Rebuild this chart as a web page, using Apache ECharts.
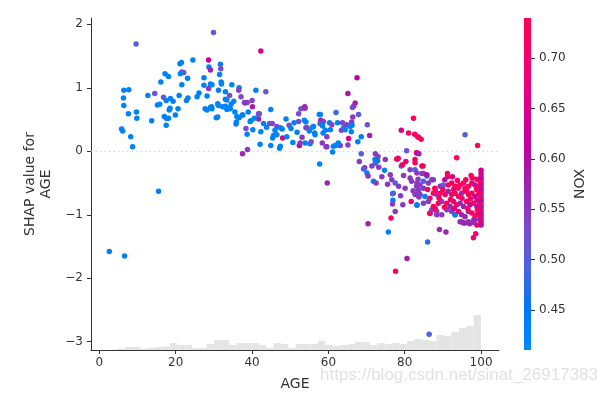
<!DOCTYPE html>
<html><head><meta charset="utf-8">
<script src="https://cdn.jsdelivr.net/npm/echarts@6/dist/echarts.min.js"></script>
<style>html,body{margin:0;padding:0;background:#fff}#c{width:600px;height:400px}</style>
</head><body><div id="c"></div>
<script>
// [AGE, SHAP value for AGE, NOX]
const pointsYoung = [
[2.6,-1.58,0.43],[6.6,-1.65,0.43],[9.6,1.69,0.50],[6.4,0.96,0.43],[7.7,0.97,0.43],[6.3,0.84,0.43],[6.4,0.72,0.43],
[7.6,0.59,0.43],[9.7,0.62,0.43],[9.8,0.52,0.43],[5.8,0.35,0.43],[6.1,0.32,0.43],[8.2,0.23,0.43],[8.7,0.07,0.43],
[15.5,-0.63,0.43],[12.7,0.88,0.43],[14.5,0.91,0.52],[13.7,0.48,0.43],[16.1,1.09,0.43],[17.2,1.22,0.43],[18.1,1.18,0.43],
[15.2,0.73,0.43],[15.8,0.74,0.43],[16.8,0.85,0.52],[17.5,0.80,0.43],[18.6,0.83,0.43],[19.3,0.79,0.43],[18.5,0.68,0.43],
[18.3,0.65,0.43],[20.6,0.67,0.43],[19.9,0.57,0.43],[17.0,0.55,0.43],[17.5,0.52,0.43],[18.1,0.52,0.43],[17.5,0.41,0.43],
[20.9,0.88,0.43],[22.8,0.80,0.43],[23.2,0.84,0.43],[21.1,1.38,0.43],[21.5,1.40,0.43],[21.6,1.25,0.50],[22.1,1.24,0.53],
[21.2,1.22,0.43],[21.6,1.05,0.43],[23.1,1.15,0.43],[24.5,1.44,0.43],[25.6,0.86,0.43],[26.1,0.92,0.43],[27.4,1.16,0.43],
[27.4,1.04,0.43],[28.6,1.44,0.62],[28.7,1.33,0.43],[29.1,1.28,0.57],[29.1,1.06,0.43],[28.6,0.99,0.55],[28.2,0.87,0.43],
[27.7,0.67,0.43],[28.2,0.65,0.43],[29.1,0.69,0.43],[29.9,1.87,0.52],[29.5,1.05,0.43],[29.5,0.67,0.43],[29.4,0.70,0.43]
];
const pointsMid = [
[42.3,1.58,0.65],[31.7,1.37,0.43],[31.8,1.30,0.53],[31.5,1.21,0.43],[31.9,1.09,0.43],[32.0,1.06,0.43],[31.2,0.96,0.43],
[33.0,0.94,0.43],[34.7,1.05,0.43],[36.6,1.00,0.43],[36.5,0.96,0.54],[33.4,0.81,0.43],[34.1,0.88,0.53],[33.0,0.82,0.43],
[31.0,0.75,0.43],[31.2,0.72,0.43],[32.3,0.70,0.43],[33.0,0.71,0.43],[33.4,0.66,0.43],[33.9,0.68,0.43],[35.2,0.79,0.43],
[37.1,0.86,0.53],[38.0,0.77,0.55],[40.0,0.80,0.54],[40.1,0.70,0.58],[41.0,0.96,0.43],[43.6,0.94,0.52],[30.6,0.53,0.43],
[31.0,0.54,0.43],[34.3,0.67,0.43],[36.0,0.55,0.43],[36.6,0.53,0.43],[35.9,0.46,0.43],[35.8,0.43,0.43],[37.4,0.57,0.43],
[37.6,0.57,0.43],[39.5,0.47,0.43],[39.7,0.48,0.43],[41.7,0.59,0.53],[41.9,0.59,0.43],[41.7,0.51,0.58],[38.7,0.27,0.43],
[38.4,0.36,0.53],[40.2,0.34,0.43],[42.3,0.31,0.43],[42.1,0.11,0.43],[43.0,0.44,0.43],[44.9,0.66,0.43],[38.8,0.03,0.55],
[37.5,-0.04,0.57],[44.6,0.44,0.53],[45.3,0.44,0.53],[46.5,0.39,0.54],[47.4,0.37,0.43],[47.9,0.35,0.43],[49.7,0.41,0.53],
[48.9,0.51,0.43],[45.6,0.25,0.43],[45.4,0.21,0.43],[46.5,0.26,0.43],[48.0,0.21,0.68],[47.4,0.08,0.43],[44.9,0.09,0.43],
[47.2,0.05,0.43],[49.1,0.23,0.43],[50.7,0.14,0.43],[51.8,0.30,0.43],[52.2,0.47,0.53],[52.2,0.59,0.53],[52.8,0.67,0.52],
[53.8,0.70,0.60],[54.1,0.46,0.43],[54.1,0.37,0.53],[53.1,0.22,0.55],[52.4,0.09,0.62],[53.9,0.13,0.43],[55.2,0.12,0.43],
[55.5,0.15,0.53],[55.8,0.38,0.43],[56.4,0.29,0.43],[57.6,0.58,0.43],[58.0,0.49,0.58],[57.8,0.44,0.53],[58.6,0.29,0.43],
[58.4,0.13,0.55],[59.4,0.07,0.56],[57.7,-0.20,0.43],[38.2,0.76,0.54],[38.7,0.77,0.55],[41.7,0.58,0.53],[53.9,0.68,0.56],
[53.7,0.49,0.43],[54.4,0.37,0.55],[56.1,0.39,0.43],[56.5,0.26,0.43],[57.9,0.58,0.43],[58.7,0.47,0.55],[58.5,0.40,0.43],
[59.6,0.23,0.55],[58.3,0.42,0.43],[52.6,0.13,0.55],[34.5,0.74,0.43],[35.5,0.62,0.43],[39.0,0.62,0.43],[40.6,0.52,0.43],
[43.8,0.38,0.43],[46.0,0.33,0.43],[50.2,0.36,0.43],[51.0,0.45,0.43],[55.0,0.32,0.43],[60.3,0.45,0.43]
];
const pointsOld = [
[64.0,0.37,0.43],[64.8,0.42,0.55],[65.7,0.39,0.43],[66.4,0.54,0.55],[66.1,0.46,0.55],[63.1,0.09,0.55],[62.2,0.10,0.43],
[61.3,0.08,0.43],[67.5,1.16,0.62],[65.1,0.91,0.60],[67.0,0.76,0.58],[66.6,0.71,0.57],[66.3,0.69,0.53],[62.0,0.61,0.48],
[67.9,0.58,0.50],[62.4,0.45,0.43],[63.7,0.45,0.54],[66.2,0.41,0.43],[60.9,0.42,0.54],[60.5,0.34,0.43],[59.2,0.33,0.43],
[63.4,0.33,0.54],[64.4,0.34,0.43],[66.0,0.31,0.43],[70.2,0.42,0.52],[68.6,0.23,0.43],[70.8,0.25,0.58],[65.3,0.20,0.65],
[62.6,0.13,0.43],[61.8,0.09,0.43],[61.1,-0.01,0.43],[67.7,0.15,0.43],[65.1,0.10,0.55],[59.6,0.07,0.55],[68.6,-0.04,0.50],
[72.3,-0.04,0.55],[73.0,-0.08,0.55],[74.9,-0.13,0.55],[72.2,-0.13,0.43],[72.9,-0.15,0.46],[68.1,-0.16,0.55],[69.5,-0.26,0.56],
[69.2,-0.28,0.50],[70.1,-0.34,0.43],[70.4,-0.39,0.55],[71.4,-0.23,0.55],[72.3,-0.19,0.48],[73.2,-0.25,0.55],[74.7,-0.30,0.43],
[76.2,-0.37,0.55],[76.6,-0.45,0.55],[77.5,-0.50,0.50],[78.4,-0.55,0.55],[77.0,-0.66,0.43],[71.8,-0.47,0.43],[72.5,-0.50,0.55],
[59.7,-0.50,0.57],[79.1,0.33,0.65],[81.0,0.29,0.72],[82.3,0.52,0.73],[82.6,0.27,0.72],[83.4,0.23,0.72],[80.5,0.01,0.52],
[83.1,-0.02,0.72],[77.9,-0.12,0.72],[78.1,-0.12,0.72],[78.3,-0.11,0.70],[82.7,-0.13,0.72],[82.7,-0.18,0.72],[80.3,-0.16,0.72],
[79.1,-0.23,0.43],[79.4,-0.21,0.72],[81.4,-0.29,0.55],[82.7,-0.29,0.50],[79.7,-0.38,0.55],[81.4,-0.42,0.55],[81.8,-0.47,0.55],
[83.5,-0.44,0.55],[83.1,-0.55,0.55],[82.2,-0.62,0.55],[83.5,-0.62,0.55],[80.1,-0.58,0.55],[76.8,-0.67,0.50],[76.9,-0.77,0.43],
[76.8,-0.83,0.55],[79.5,-0.84,0.55],[81.7,-0.79,0.68],[83.2,-0.85,0.50],[83.7,-0.72,0.55],[77.5,-0.95,0.55],[76.4,-1.05,0.72],
[70.4,-1.14,0.58],[75.7,-1.27,0.43],[80.6,-1.69,0.58],[77.6,-1.89,0.72],[74.0,-0.40,0.55],[75.5,-0.52,0.55],[78.9,-0.70,0.55]
];
const pointsDense = [
[86.0,-1.43,0.48],[86.4,-2.88,0.50],[89.1,-1.23,0.57],[90.8,-1.27,0.57],[98.0,-1.36,0.70],[98.6,-1.30,0.70],[93.2,-1.00,0.43],
[88.4,-1.00,0.55],[86.6,-0.98,0.72],[94.9,-1.11,0.57],[95.8,-1.13,0.57],[97.0,-1.14,0.57],[98.1,-1.08,0.72],[99.7,-1.08,0.57],
[98.9,-1.00,0.72],[83.6,0.22,0.72],[84.3,0.19,0.72],[95.8,0.26,0.50],[99.1,0.09,0.72],[93.6,-0.10,0.72],[83.2,-0.03,0.65],
[83.7,-0.04,0.58],[84.5,-0.23,0.72],[84.8,-0.23,0.72],[84.9,-0.35,0.55],[85.8,-0.39,0.43],[87.5,-0.45,0.55],[91.2,-0.35,0.72],
[91.2,-0.40,0.72],[92.5,-0.40,0.65],[97.4,-0.38,0.72],[97.7,-0.42,0.72],
[83.2,-0.34,0.55],[84.5,-0.35,0.55],[85.8,-0.37,0.60],[83.2,-0.50,0.55],[84.0,-0.53,0.55],[84.9,-0.47,0.50],[86.2,-0.50,0.55],
[87.1,-0.45,0.55],[87.9,-0.58,0.72],[89.3,-0.55,0.56],[90.1,-0.53,0.50],[91.4,-0.53,0.72],[92.3,-0.50,0.72],[93.2,-0.55,0.72],
[94.5,-0.53,0.72],[95.4,-0.50,0.72],[95.8,-0.58,0.72],[96.7,-0.55,0.72],[97.6,-0.50,0.72],[98.4,-0.53,0.60],[99.3,-0.55,0.72],
[99.7,-0.61,0.72],[83.6,-0.61,0.55],[84.9,-0.58,0.55],[82.7,-0.68,0.55],[84.0,-0.68,0.55],[85.3,-0.71,0.43],[86.6,-0.74,0.72],
[87.5,-0.66,0.72],[88.4,-0.68,0.56],[89.3,-0.66,0.72],[90.6,-0.68,0.72],[91.4,-0.63,0.57],[92.3,-0.68,0.72],[93.2,-0.66,0.72],
[94.1,-0.71,0.72],[94.9,-0.66,0.57],[95.8,-0.63,0.72],[96.7,-0.68,0.72],[97.6,-0.66,0.72],[98.4,-0.71,0.60],[99.3,-0.68,0.72],
[83.2,-0.84,0.43],[84.9,-0.82,0.55],[86.2,-0.79,0.55],[87.5,-0.87,0.72],[88.8,-0.82,0.72],[89.7,-0.79,0.55],[91.0,-0.82,0.72],
[91.9,-0.87,0.57],[92.8,-0.79,0.72],[93.6,-0.84,0.72],[94.5,-0.82,0.57],[95.4,-0.87,0.57],[96.2,-0.79,0.72],[97.1,-0.84,0.60],
[98.0,-0.82,0.72],[98.9,-0.87,0.60],[99.7,-0.82,0.72],[86.6,-0.97,0.72],[87.1,-0.92,0.55],[88.4,-0.95,0.55],[89.7,-1.00,0.55],
[91.0,-0.92,0.55],[92.3,-0.95,0.55],[93.2,-1.00,0.43],[94.1,-0.95,0.72],[94.9,-1.00,0.57],[95.8,-1.03,0.57],[96.7,-0.95,0.57],
[97.6,-0.97,0.72],[98.4,-1.03,0.72],[99.3,-0.97,0.72],[94.5,-1.11,0.57],[95.4,-1.13,0.57],[96.7,-1.11,0.57],[98.4,-1.08,0.57],
[98.9,-1.16,0.72],[98.0,-1.12,0.57],[99.7,-0.47,0.72],
[88.0,-0.62,0.72],[90.0,-0.60,0.72],[92.8,-0.60,0.72],[94.0,-0.58,0.72],[96.2,-0.62,0.72],[98.8,-0.60,0.72],[89.0,-0.74,0.72],
[92.0,-0.76,0.72],[95.0,-0.74,0.72],[97.2,-0.75,0.72],[99.0,-0.77,0.65],[88.0,-0.90,0.72],[90.4,-0.88,0.72],[93.0,-0.90,0.65],
[96.5,-0.90,0.72],[99.0,-0.92,0.72],[90.5,-0.45,0.60],[93.8,-0.46,0.72],[96.0,-0.45,0.72],[98.9,-0.44,0.72],[86.0,-0.60,0.72]
];
const pointsAge100 = [
[100,-0.30,0.64],[100,-0.35,0.64],[100,-0.40,0.64],[100,-0.44,0.60],[100,-0.49,0.72],[100,-0.54,0.60],[100,-0.58,0.72],
[100,-0.62,0.60],[100,-0.67,0.72],[100,-0.72,0.58],[100,-0.76,0.72],[100,-0.80,0.60],[100,-0.85,0.72],[100,-0.89,0.58],
[100,-0.94,0.70],[100,-0.99,0.60],[100,-1.03,0.72],[100,-1.08,0.58],[100,-1.12,0.70],[100,-1.16,0.60]
];
// AGE histogram (50 bins from 2.9 to 100)
const histRange = [2.9, 100];
const histCounts = [1,3,6,6,3,4,6,7,14,10,10,4,4,12,20,20,10,14,14,14,10,4,14,12,4,12,12,12,18,10,
                    8,10,12,16,16,10,14,12,14,12,18,22,20,18,30,28,36,44,48,70];
const xTicks = [0,20,40,60,80,100];
const yTicks = [-3,-2,-1,0,1,2];
const noxTicks = [0.45,0.50,0.55,0.60,0.65,0.70];
const noxRange = [0.41, 0.74];
const xRange = [-2.2, 104.7];

const cmap = ['#008bfb','#0078f3','#4b63e3','#7d49cd','#9b23ad','#c2009c','#e00086','#f5006d','#ff0052'];

const allPoints = [].concat(pointsYoung, pointsMid, pointsOld, pointsDense, pointsAge100);
const binW = (histRange[1]-histRange[0]) / histCounts.length;
const histData = histCounts.map((c,i) => [histRange[0]+i*binW, histRange[0]+(i+1)*binW, c]);
const minus = v => String(v).replace('-', '\u2212');

const chart = echarts.init(document.getElementById('c'));
const font = 'DejaVu Sans';
chart.setOption({
  animation: false,
  textStyle: {fontFamily: font},
  grid: [
    {left: 91, right: 101, top: 18, bottom: 50},
    {left: 524, width: 7, top: 18, bottom: 50}
  ],
  xAxis: [
    {gridIndex: 0, type: 'value', min: xRange[0], max: xRange[1], splitLine: {show: false},
     axisLine: {onZero: false, lineStyle: {color: '#333', width: 1}},
     axisTick: {customValues: xTicks, length: 4, lineStyle: {color: '#333'}},
     axisLabel: {customValues: xTicks, color: '#333', fontSize: 12, margin: 7, fontFamily: font},
     name: 'AGE', nameLocation: 'middle', nameGap: 27,
     nameTextStyle: {fontSize: 14, color: '#333', fontFamily: font}},
    {gridIndex: 1, type: 'category', data: ['NOX'], show: false}
  ],
  yAxis: [
    {gridIndex: 0, type: 'value', min: -3.13, max: 2.1, splitLine: {show: false},
     axisLine: {show: true, onZero: false, lineStyle: {color: '#333', width: 1}},
     axisTick: {show: true, customValues: yTicks, length: 4, lineStyle: {color: '#333'}},
     axisLabel: {customValues: yTicks, color: '#333', fontSize: 12, margin: 8, fontFamily: font, formatter: minus},
     name: 'SHAP value for\nAGE', nameLocation: 'middle', nameRotate: 90, nameGap: 36,
     nameTextStyle: {fontSize: 14, color: '#333', fontFamily: font, lineHeight: 16}},
    {gridIndex: 0, type: 'value', min: 0, max: 664, show: false},
    {gridIndex: 1, type: 'value', min: noxRange[0], max: noxRange[1], position: 'right', splitLine: {show: false},
     axisLine: {show: false, onZero: false},
     axisTick: {show: true, customValues: noxTicks, length: 4, lineStyle: {color: '#333'}},
     axisLabel: {customValues: noxTicks, color: '#333', fontSize: 12, margin: 8, fontFamily: font, formatter: v => v.toFixed(2)},
     name: 'NOX', nameLocation: 'middle', nameRotate: 90, nameGap: 42,
     nameTextStyle: {fontSize: 14, color: '#333', fontFamily: font}}
  ],
  visualMap: {type: 'continuous', show: false, min: noxRange[0], max: noxRange[1], dimension: 2, seriesIndex: 1,
              inRange: {color: cmap}},
  series: [
    {type: 'custom', xAxisIndex: 0, yAxisIndex: 1, data: histData, silent: true, z: 1,
     renderItem: (params, api) => {
       const p0 = api.coord([api.value(0), 0]);
       const p1 = api.coord([api.value(1), api.value(2)]);
       return {type: 'rect', shape: {x: p0[0], y: p1[1], width: p1[0]-p0[0], height: p0[1]-p1[1]},
               style: {fill: '#e4e4e4'}};
     }},
    {type: 'scatter', xAxisIndex: 0, yAxisIndex: 0, data: allPoints, symbolSize: 5.5, z: 3,
     itemStyle: {opacity: 1}},
    {type: 'bar', xAxisIndex: 1, yAxisIndex: 2, data: [noxRange[1]], barWidth: '100%', silent: true,
     itemStyle: {color: new echarts.graphic.LinearGradient(0, 1, 0, 0,
        cmap.map((c, i) => ({offset: i/(cmap.length-1), color: c})))}},
    {type: 'line', xAxisIndex: 0, yAxisIndex: 0, data: [[xRange[0], 0], [xRange[1], 0]], symbol: 'none', silent: true, z: 2,
     lineStyle: {type: [1.5,3], color: '#cfcfcf', width: 1}}
  ],
  graphic: [{type: 'text', right: 2, top: 367,
             style: {text: 'https://blog.csdn.net/sinat_26917383', font: '17px "Liberation Sans"', fill: 'rgba(200,200,200,0.55)'}}]
});
</script></body></html>
